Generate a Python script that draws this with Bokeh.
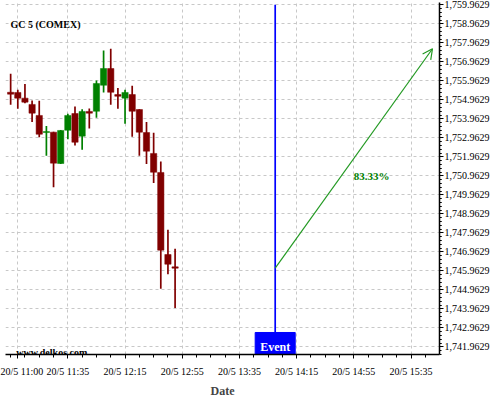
from bokeh.plotting import figure
from bokeh.models import (FixedTicker, NumeralTickFormatter, Label, Arrow, OpenHead,
                          ColumnDataSource, Range1d)
from bokeh.embed import file_html
from bokeh.resources import INLINE

# ---- data ----
times = ["10:55", "11:00", "11:05", "11:10", "11:15", "11:20", "11:25", "11:30",
         "11:35", "11:40", "11:45", "11:50", "11:55", "12:00", "12:05", "12:10",
         "12:15", "12:20", "12:25", "12:30", "12:35", "12:40", "12:45", "12:50"]
opens = [1755.36, 1755.35, 1755.05, 1754.72, 1754.14, 1753.24, 1753.26, 1751.61,
         1753.36, 1754.24, 1753.05, 1754.35, 1754.36, 1755.73, 1756.61, 1755.24,
         1755.05, 1755.24, 1754.45, 1753.24, 1752.14, 1751.14, 1746.82, 1746.17]
highs = [1756.33, 1755.49, 1755.80, 1754.93, 1754.91, 1753.59, 1753.28, 1753.37,
         1754.23, 1754.61, 1754.47, 1754.51, 1755.98, 1757.56, 1757.65, 1755.59,
         1755.49, 1755.70, 1754.47, 1753.80, 1753.23, 1751.72, 1748.12, 1747.12]
lows = [1754.70, 1754.49, 1754.78, 1753.80, 1752.99, 1752.02, 1750.36, 1751.58,
        1752.89, 1752.56, 1752.33, 1753.45, 1754.02, 1755.35, 1754.70, 1754.49,
        1753.70, 1753.02, 1752.02, 1751.59, 1750.59, 1745.02, 1745.78, 1744.00]
closes = [1755.26, 1755.05, 1754.84, 1754.26, 1753.15, 1753.29, 1751.63, 1753.35,
          1754.14, 1752.73, 1754.35, 1754.26, 1755.82, 1756.61, 1755.36, 1755.15,
          1755.35, 1754.36, 1753.26, 1752.26, 1751.15, 1747.05, 1746.31, 1746.10]

x_tick_labels = ["20/5 11:00", "20/5 11:35", "20/5 12:15", "20/5 12:55",
                 "20/5 13:35", "20/5 14:15", "20/5 14:55", "20/5 15:35"]
y_ticks = [1741.9629, 1742.9629, 1743.9629, 1744.9629, 1745.9629, 1746.9629,
           1747.9629, 1748.9629, 1749.9629, 1750.9629, 1751.9629, 1752.9629,
           1753.9629, 1754.9629, 1755.9629, 1756.9629, 1757.9629, 1758.9629,
           1759.9629]

event_time = "14:00"
target_time = "15:50"
target_price = 1757.65
pct_text = "83.33%"
pct_time = "14:55"
pct_price = 1750.96
title_text = "GC 5 (COMEX)"
watermark = "www.delkos.com"


def mins(t):
    h, m = t.split(" ")[-1].split(":")
    return int(h) * 60 + int(m)


xs = [mins(t) for t in times]
up = [c >= o for o, c in zip(opens, closes)]
RED = "#800000"
GREEN = "#008000"
colors = [GREEN if u else RED for u in up]
src = ColumnDataSource(dict(
    x=xs, o=opens, h=highs, l=lows, c=closes,
    top=[max(o, c) for o, c in zip(opens, closes)],
    bottom=[min(o, c) for o, c in zip(opens, closes)],
    color=colors))

FONT = "Liberation Serif"
x0, x1 = 651.4, 954.9
y0, y1 = 1741.558, 1760.084

p = figure(frame_width=434, frame_height=352, output_backend="svg",
           toolbar_location=None, y_axis_location="right",
           x_range=Range1d(x0, x1), y_range=Range1d(y0, y1),
           min_border_left=5, min_border_top=2, min_border_right=0, min_border_bottom=0)
p.outline_line_color = None
p.background_fill_color = "white"
p.border_fill_color = "white"

# axes
xt = [mins(t) for t in x_tick_labels]
p.xaxis.ticker = FixedTicker(ticks=xt, minor_ticks=[xt[1] + 10 * k for k in range(-4, 40)])
p.xaxis.major_label_overrides = {v: s for v, s in zip(xt, x_tick_labels)}
p.xaxis.axis_label = "Date"
p.xaxis.axis_label_text_font = FONT
p.xaxis.axis_label_text_font_style = "bold"
p.xaxis.axis_label_text_font_size = "12px"
p.xaxis.axis_label_standoff = 4
p.xaxis.major_label_text_font = FONT
p.xaxis.major_label_text_font_size = "10px"
p.xaxis.major_label_standoff = 7
p.xaxis.major_tick_out = 4
p.xaxis.major_tick_in = 0
p.xaxis.minor_tick_out = 3
p.xaxis.minor_tick_in = 0

minor_y = []
for t in y_ticks:
    for k in range(-4, 5):
        minor_y.append(t + k * 0.2)
p.yaxis.ticker = FixedTicker(ticks=y_ticks, minor_ticks=minor_y)
p.yaxis.formatter = NumeralTickFormatter(format="0,0.0000")
p.yaxis.major_label_text_font = FONT
p.yaxis.major_label_text_font_size = "10px"
p.yaxis.major_label_standoff = 1
p.yaxis.major_tick_out = 4
p.yaxis.major_tick_in = 0
p.yaxis.minor_tick_out = 2
p.yaxis.minor_tick_in = 0

for ax in (p.xaxis, p.yaxis):
    ax.axis_line_color = "black"
    ax.axis_line_width = 1.5
    ax.major_tick_line_color = "black"
    ax.minor_tick_line_color = "black"
    ax.major_label_text_color = "black"

p.xgrid.ticker = FixedTicker(ticks=xt)
p.ygrid.ticker = FixedTicker(ticks=y_ticks)
for g in (p.xgrid, p.ygrid):
    g.grid_line_color = "#c8c8c8"
    g.grid_line_dash = "3 3"
    g.grid_line_width = 1

# candles
p.segment(x0="x", y0="h", x1="x", y1="l", source=src, line_color="color", line_width=1.7)
p.vbar(x="x", top="top", bottom="bottom", width=4.4, source=src,
       fill_color="color", line_color="color", line_width=0.5)

# event marker
ev = mins(event_time)
box_top = y0 + 22 / 19.0
p.segment(x0=[ev], y0=[box_top], x1=[ev], y1=[y_ticks[-1]], line_color="#0000ff", line_width=1.7)
p.quad(left=[ev - 14], right=[ev + 14], bottom=[y0], top=[box_top],
       fill_color="#0000ff", line_color="#0000ff")
p.add_layout(Label(x=ev, y=y0, text="Event", text_font=FONT, text_font_style="bold",
                   text_font_size="12px", text_color="white", text_align="center",
                   text_baseline="bottom", y_offset=1))

# forecast arrow
p.add_layout(Arrow(x_start=ev, y_start=closes[-1], x_end=mins(target_time), y_end=target_price,
                   line_color="#229922", line_width=1.2,
                   end=OpenHead(size=10, line_color="#229922", line_width=1.2)))
p.add_layout(Label(x=mins(pct_time), y=pct_price, text=pct_text, text_font=FONT,
                   text_font_style="bold", text_font_size="11px", text_color=GREEN,
                   text_baseline="alphabetic"))

# title / watermark
p.add_layout(Label(x=5, y=330, x_units="screen", y_units="screen", text=title_text,
                   text_font=FONT, text_font_style="bold", text_font_size="10px",
                   text_color="black", text_baseline="alphabetic"))
p.add_layout(Label(x=10.7, y=2.5, x_units="screen", y_units="screen", text=watermark,
                   text_font=FONT, text_font_style="bold", text_font_size="10px",
                   text_color="black", text_baseline="alphabetic"))

open("out.html", "w").write(file_html(p, INLINE))
